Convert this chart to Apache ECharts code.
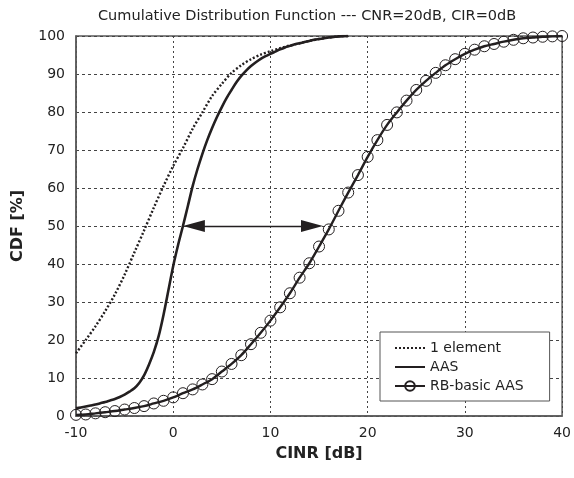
<!DOCTYPE html>
<html>
<head>
<meta charset="utf-8">
<script src="https://cdn.jsdelivr.net/npm/echarts@6/dist/echarts.min.js"></script>
<style>
html,body{margin:0;padding:0;background:#fff;}
#chart{width:574px;height:478px;}
</style>
</head>
<body>
<div id="chart"></div>
<script>
var titleText = 'Cumulative Distribution Function --- CNR=20dB, CIR=0dB';
var xName = 'CINR [dB]';
var yName = 'CDF [%]';
var seriesNames = ['1 element', 'AAS', 'RB-basic AAS'];

var oneElemX = [-10,-9,-8,-7,-6,-5,-4,-3,-2,-1,0,1,2,3,4,5,6,7,8,9,10,11,12,13,14,15,16,17,18];
var oneElemY = [16.5,20.0,23.6,27.6,32.0,37.2,43.0,48.8,54.8,60.5,65.8,70.5,75.6,79.9,84.2,87.4,90.3,92.3,93.9,95.1,96.0,96.8,97.5,98.1,98.7,99.2,99.6,99.9,100];

var aasX = [-10,-9.5,-9,-8.5,-8,-7.5,-7,-6.5,-6,-5.5,-5,-4.5,-4,-3.5,-3,-2.5,-2,-1.5,-1,-0.5,0,0.5,1,1.5,2,2.5,3,3.5,4,4.5,5,5.5,6,6.5,7,7.5,8,8.5,9,9.5,10,10.5,11,11.5,12,12.5,13,13.5,14,14.5,15,15.5,16,16.5,17,17.5,18];
var aasY = [2.0,2.25,2.5,2.75,3.0,3.35,3.7,4.1,4.5,5.0,5.6,6.4,7.3,8.7,10.7,13.5,16.8,21.0,26.6,33.0,39.5,45.0,50.0,55.2,60.5,65.0,69.0,72.6,75.8,78.7,81.3,83.7,85.8,87.8,89.5,90.9,92.1,93.1,94.0,94.7,95.3,95.9,96.5,97.0,97.4,97.8,98.1,98.4,98.7,99.0,99.2,99.4,99.6,99.75,99.9,99.97,100];

var rbX = [-10,-9,-8,-7,-6,-5,-4,-3,-2,-1,0,1,2,3,4,5,6,7,8,9,10,11,12,13,14,15,16,17,18,19,20,21,22,23,24,25,26,27,28,29,30,31,32,33,34,35,36,37,38,39,40];
var rbY = [0.3,0.4,0.7,1.0,1.3,1.7,2.1,2.6,3.3,4.0,4.9,6.0,7.0,8.3,9.7,11.7,13.7,16.0,18.9,21.9,25.1,28.6,32.3,36.4,40.2,44.6,49.1,54.0,58.8,63.4,68.2,72.6,76.6,79.9,83.0,85.8,88.2,90.3,92.3,93.9,95.3,96.4,97.3,97.9,98.5,99.0,99.4,99.6,99.8,99.9,100];

// arrow annotation: tips at CDF=50 between AAS and RB-basic AAS
var arrowFromX = 1.0, arrowToX = 15.4, arrowY = 50;

var xTicks = {min: -10, max: 40, interval: 10};
var yTicks = {min: 0, max: 100, interval: 10};

function pairs(xs, ys){ return xs.map(function(x,i){ return [x, ys[i]]; }); }

var INK = '#231f20';
var FONT = 'DejaVu Sans';
var chart = echarts.init(document.getElementById('chart'), null, {renderer:'canvas'});
var gridL = 76, gridR = 564, gridT = 36, gridB = 416;
var pxPerX = (gridR - gridL) / (xTicks.max - xTicks.min);
var headLen = 22;
var headOff = (headLen / 2) / pxPerX;

var option = {
  animation: false,
  backgroundColor: '#ffffff',
  title: {
    text: titleText,
    left: 98, top: 9, padding: 0,
    textStyle: {fontFamily: FONT, fontSize: 14.5, fontWeight: 'normal', color: '#222'}
  },
  grid: {
    left: gridL, right: 574 - gridR, top: gridT, bottom: 478 - gridB,
    show: true, borderColor: '#5a5a5a', borderWidth: 1.5, backgroundColor: 'transparent'
  },
  legend: {
    orient: 'vertical',
    left: 380, top: 332,
    padding: [9, 26, 8, 14],
    itemWidth: 30, itemHeight: 12, itemGap: 5,
    backgroundColor: '#fff',
    borderColor: '#555', borderWidth: 1, borderRadius: 0,
    textStyle: {fontFamily: FONT, fontSize: 14, color: '#222'},
    data: [
      {name: seriesNames[0], itemStyle: {opacity: 0}},
      {name: seriesNames[1], itemStyle: {opacity: 0}},
      {name: seriesNames[2]}
    ]
  },
  xAxis: {
    type: 'value', min: xTicks.min, max: xTicks.max, interval: xTicks.interval,
    name: xName, nameLocation: 'middle', nameGap: 30,
    nameTextStyle: {fontFamily: FONT, fontSize: 16, fontWeight: 'bold', color: '#222'},
    axisLine: {show: true, onZero: false, lineStyle: {color: '#5a5a5a', width: 1.5}},
    axisTick: {show: false},
    axisLabel: {margin: 10, fontFamily: FONT, fontSize: 14, color: '#222'},
    splitLine: {show: true, lineStyle: {color: '#444', width: 1, type: [2, 3]}}
  },
  yAxis: {
    type: 'value', min: yTicks.min, max: yTicks.max, interval: yTicks.interval,
    name: yName, nameLocation: 'middle', nameGap: 50, nameRotate: 90,
    nameTextStyle: {fontFamily: FONT, fontSize: 16, fontWeight: 'bold', color: '#222'},
    axisLine: {show: true, onZero: false, lineStyle: {color: '#5a5a5a', width: 1.5}},
    axisTick: {show: false},
    axisLabel: {margin: 11, fontFamily: FONT, fontSize: 14, color: '#222'},
    splitLine: {show: true, lineStyle: {color: '#444', width: 1, type: [3, 3]}}
  },
  series: [
    {
      name: seriesNames[0], type: 'line', symbol: 'none', smooth: 0.3,
      data: pairs(oneElemX, oneElemY),
      lineStyle: {color: INK, width: 2.4, type: [2, 2]},
      itemStyle: {color: INK}
    },
    {
      name: seriesNames[1], type: 'line', symbol: 'none', smooth: 0.3,
      data: pairs(aasX, aasY),
      lineStyle: {color: INK, width: 2.6},
      itemStyle: {color: INK},
      markLine: {
        silent: true,
        symbol: ['triangle', 'triangle'],
        symbolSize: [12, headLen],
        label: {show: false},
        lineStyle: {color: INK, width: 1.3, type: 'solid'},
        data: [[{coord: [arrowFromX + headOff, arrowY]}, {coord: [arrowToX - headOff, arrowY]}]]
      }
    },
    {
      name: seriesNames[2], type: 'line', symbol: 'circle', symbolSize: 11, smooth: 0.3,
      data: pairs(rbX, rbY),
      lineStyle: {color: INK, width: 2.4},
      itemStyle: {color: 'rgba(255,255,255,0)', borderColor: INK, borderWidth: 1}
    }
  ]
};
chart.setOption(option);
</script>
</body>
</html>
